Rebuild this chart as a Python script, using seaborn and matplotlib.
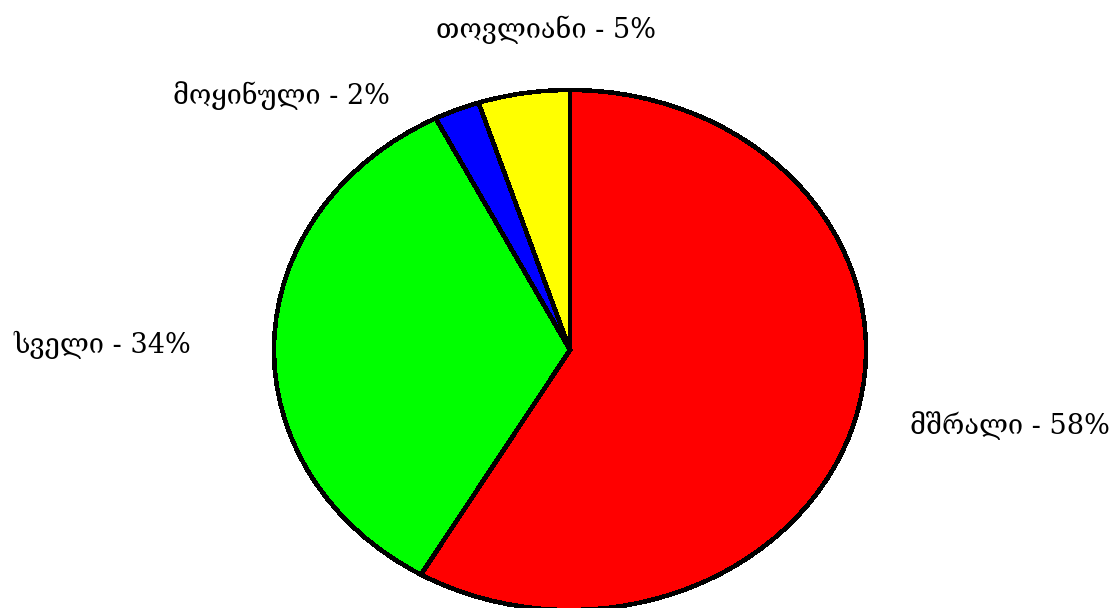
import matplotlib
matplotlib.use("Agg")
import matplotlib.pyplot as plt
import seaborn as sns

# --- Data ---
categories = ["მშრალი", "სველი", "მოყინული", "თოვლიანი"]
shares = [58.4, 34.1, 2.5, 5.0]
pct_labels = ["58%", "34%", "2%", "5%"]
colors = ["#ff0000", "#00ff00", "#0000ff", "#ffff00"]

# label anchor points (axes data units, unit circle = pie)
label_pos = [(1.15, -0.29), (-1.28, 0.02), (-0.61, 0.98), (-0.08, 1.23)]
label_ha = ["left", "right", "right", "center"]

sns.set_theme(style="white")
plt.rcParams['font.family'] = ['DejaVu Serif', 'DejaVu Sans']

fig = plt.figure(figsize=(11.15, 6.08), dpi=100)
ax = fig.add_axes([0, 0, 1, 1])

wedges, texts = ax.pie(
    shares,
    labels=[f"{c} - {p}" for c, p in zip(categories, pct_labels)],
    colors=colors,
    startangle=90,
    counterclock=False,
    wedgeprops=dict(edgecolor="black", linewidth=2.5, antialiased=False),
    textprops=dict(fontsize=19.5, color="black"),
)

for t, (x, y), ha in zip(texts, label_pos, label_ha):
    t.set_position((x, y))
    t.set_ha(ha)
    t.set_va("center")

# elliptical pie like the original
ax.set_aspect("auto")
ax.set_xlim(-570 / 296, (1115 - 570) / 296)
ax.set_ylim((350 - 608) / 260, 350 / 260)
ax.axis("off")

fig.savefig("out.png", dpi=100, facecolor="white")
